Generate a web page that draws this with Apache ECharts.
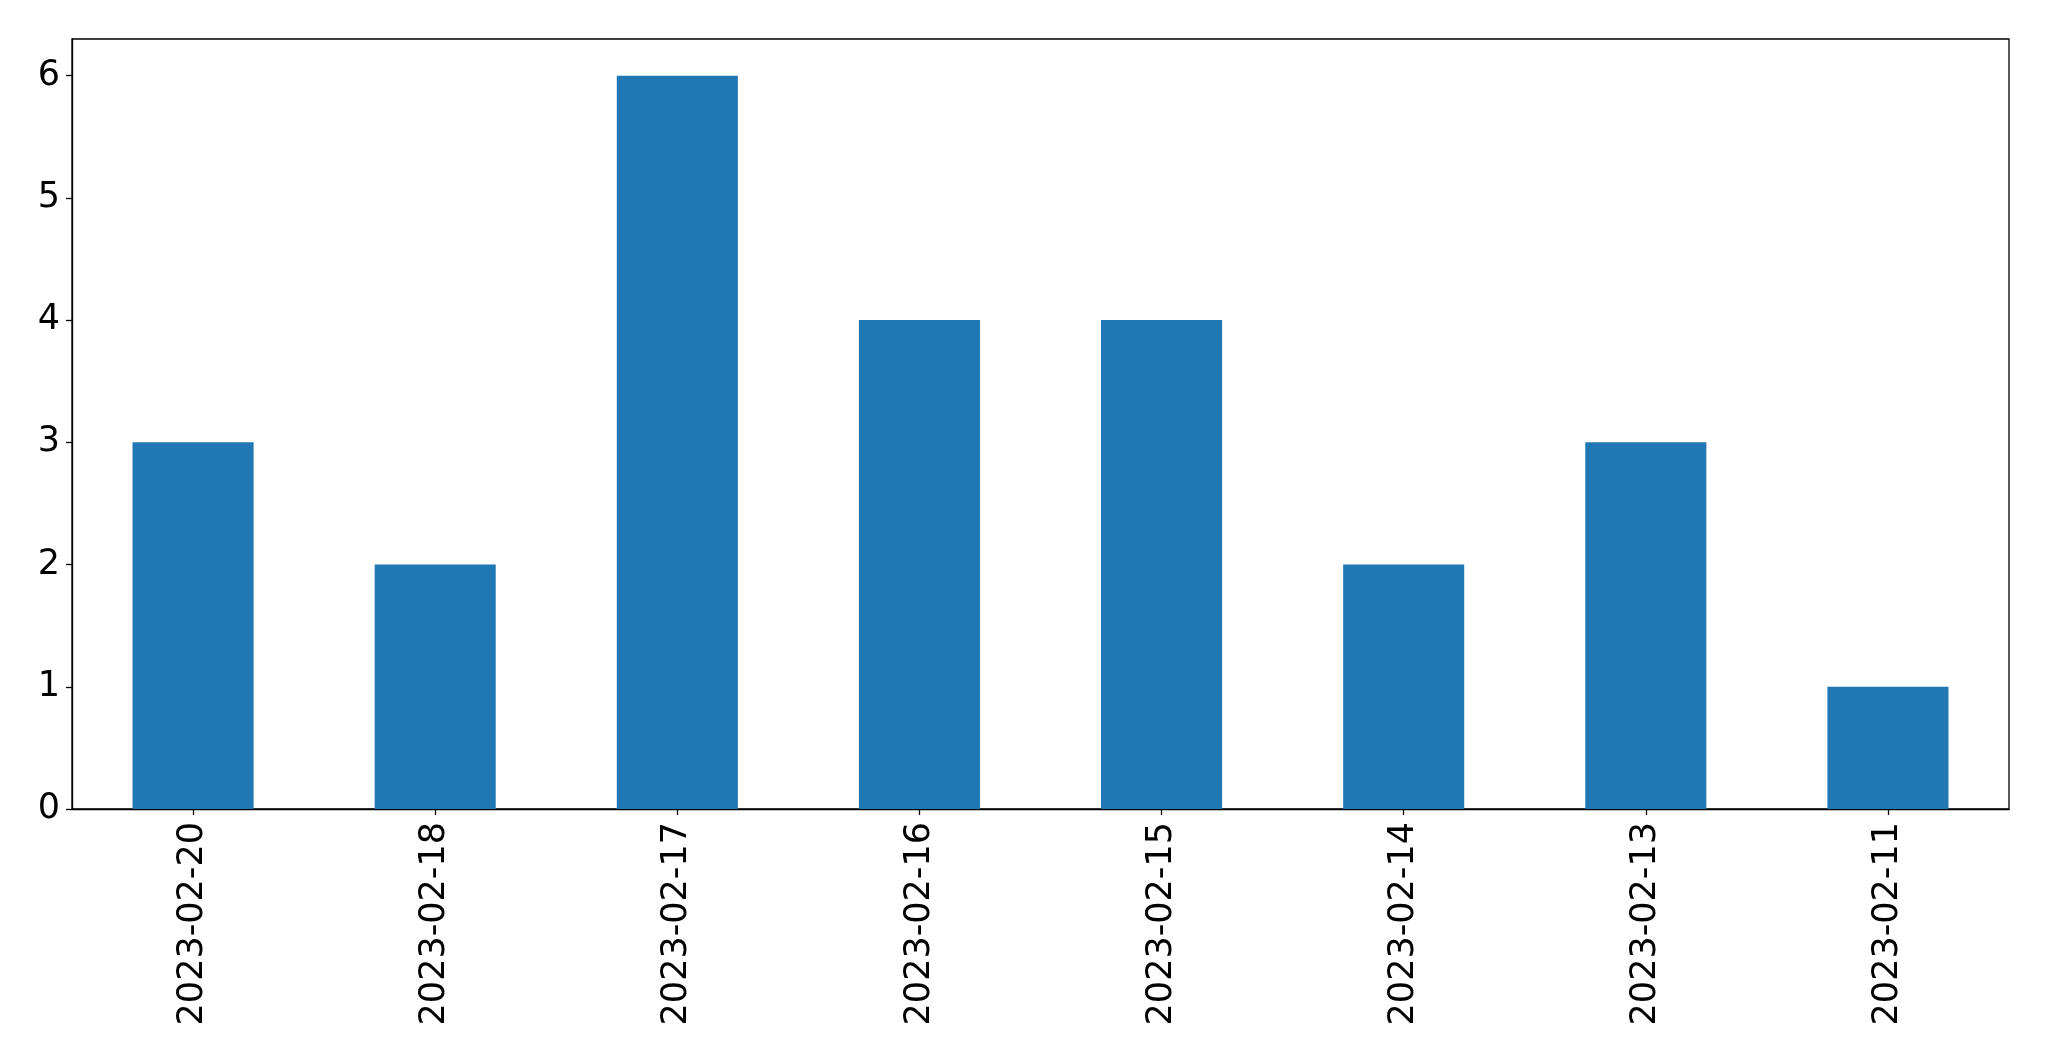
<!DOCTYPE html>
<html>
<head>
<meta charset="utf-8">
<script src="https://cdn.jsdelivr.net/npm/echarts@6/dist/echarts.min.js"></script>
<style>
html,body{margin:0;padding:0;background:#fff;}
#chart{width:2049px;height:1061px;}
</style>
</head>
<body>
<div id="chart"></div>
<script>
const categories = ['2023-02-20','2023-02-18','2023-02-17','2023-02-16','2023-02-15','2023-02-14','2023-02-13','2023-02-11'];
const values = [3, 2, 6, 4, 4, 2, 3, 1];
const yTicks = [0, 1, 2, 3, 4, 5, 6];

const chart = echarts.init(document.getElementById('chart'), null, {renderer: 'canvas'});
const font = 'DejaVu Sans';
chart.setOption({
  animation: false,
  backgroundColor: '#ffffff',
  grid: {
    left: 72, top: 39, width: 1937, height: 770,
    show: true, borderColor: '#000', borderWidth: 1.3, backgroundColor: 'transparent'
  },
  xAxis: {
    type: 'category',
    data: categories,
    boundaryGap: true,
    axisLine: {show: true, lineStyle: {color: '#000', width: 1.3}},
    axisTick: {show: true, alignWithLabel: true, length: 6, lineStyle: {color: '#000', width: 1.3}},
    axisLabel: {rotate: 90, margin: 13, color: '#000', fontSize: 35, fontFamily: font, interval: 0},
    splitLine: {show: false}
  },
  yAxis: {
    type: 'value',
    min: 0, max: 6.3, interval: 1,
    axisLine: {show: true, lineStyle: {color: '#000', width: 1.3}},
    axisTick: {show: true, length: 6, lineStyle: {color: '#000', width: 1.3}, customValues: yTicks},
    axisLabel: {margin: 12, color: '#000', fontSize: 35, fontFamily: font, customValues: yTicks, padding: [7, 0, 0, 0]},
    splitLine: {show: false}
  },
  series: [{
    type: 'bar',
    data: values,
    barWidth: '50%',
    itemStyle: {color: '#1f77b4'}
  }]
});
</script>
</body>
</html>
